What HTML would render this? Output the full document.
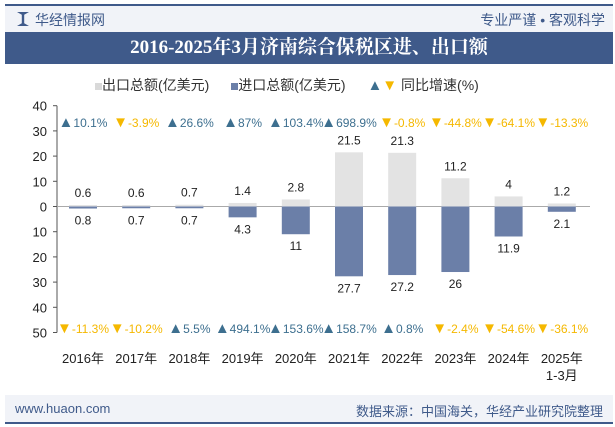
<!DOCTYPE html>
<html><head><meta charset="utf-8"><style>
body{margin:0;width:615px;height:427px;background:#fff;font-family:"Liberation Sans","Noto Sans CJK SC",sans-serif;position:relative;overflow:hidden}
.abs{position:absolute}
</style></head><body>
<div class="abs" style="left:5px;top:4px;width:608px;height:2px;background:#3f5a8a"></div>
<div class="abs" style="left:5px;top:6px;width:608px;height:26px;background:#f1f3f8"></div>
<div class="abs" style="left:17px;top:12px;width:12px;height:14px;background:#3f5a8a;clip-path:polygon(0 0,40% 20%,40% 80%,0 100%,100% 100%,60% 80%,60% 20%,100% 0)"></div>
<div class="abs" style="left:35px;top:10px;font-size:14px;color:#3f5a8a">华经情报网</div>
<div class="abs" style="right:10px;top:10px;font-size:14px;color:#3f5a8a">专业严谨 • 客观科学</div>
<div class="abs" style="left:5px;top:32px;width:608px;height:32px;background:#3f5a8a;color:#fff;font-family:'Liberation Serif','Noto Serif CJK SC',serif;font-weight:bold;font-size:19px;text-align:center;line-height:32px">2016-2025年3月济南综合保税区进、出口额</div>
<div class="abs" style="left:95px;top:75px;font-size:14px;color:#333;white-space:nowrap">
<span><span style="display:inline-block;width:7px;height:7px;background:#d9d9d9"></span>出口总额(亿美元)</span>
<span style="margin-left:18px"><span style="display:inline-block;width:7px;height:7px;background:#6b7fa8"></span>进口总额(亿美元)</span>
<span style="margin-left:18px"><span style="color:#3d6f8f;font-size:15px">▲</span><span style="color:#f5b800;font-size:15px">▼</span> 同比增速(%)</span>
</div>
<svg class="abs" style="left:0;top:0" width="615" height="427" id="chart"></svg>
<div class="abs" style="left:5px;top:395px;width:608px;height:28px;background:#f1f3f8"></div>
<div class="abs" style="left:5px;top:422px;width:608px;height:2px;background:#3f5a8a"></div>
<div class="abs" style="left:15px;top:401px;font-size:13px;color:#3f5a8a">www.huaon.com</div>
<div class="abs" style="right:12px;top:401px;font-size:13px;color:#3f5a8a">数据来源：中国海关，华经产业研究院整理</div>
<script>
const categories=["2016年","2017年","2018年","2019年","2020年","2021年","2022年","2023年","2024年","2025年"];
const exports=[0.6,0.6,0.7,1.4,2.8,21.5,21.3,11.2,4,1.2];
const imports=[0.8,0.7,0.7,4.3,11,27.7,27.2,26,11.9,2.1];
const exportGrowth=[10.1,-3.9,26.6,87,103.4,698.9,-0.8,-44.8,-64.1,-13.3];
const importGrowth=[-11.3,-10.2,5.5,494.1,153.6,158.7,0.8,-2.4,-54.6,-36.1];
const yTicks=[40,30,20,10,0,10,20,30,40,50];
const svg=document.getElementById('chart');
const NS='http://www.w3.org/2000/svg';
const y0=206.5,k=2.52;
const y=v=>y0-v*k;
const x=i=>83+i*53.2;
function mk(t,a,txt,parent){const e=document.createElementNS(NS,t);for(const n in a)e.setAttribute(n,a[n]);if(txt!==undefined)e.textContent=txt;(parent||svg).appendChild(e);return e;}
let ax=mk('line',{x1:57,y1:y(40),x2:57,y2:y(-50),stroke:'#555','stroke-width':1});

let zl=mk('line',{x1:57,y1:y0,x2:590,y2:y0,stroke:'#aaa','stroke-width':1});

yTicks.forEach((t,i)=>{const v=40-i*10;
let l=mk('line',{x1:53,y1:y(v),x2:57,y2:y(v),stroke:'#555'});

let tx=mk('text',{x:47,y:y(v)+5,'text-anchor':'end','font-size':13,fill:'#222'},t);
});
categories.forEach((c,i)=>{const cx=x(i),w=28;
let b=mk('rect',{x:cx-w/2,y:y(exports[i]),width:w,height:exports[i]*k,fill:'#e3e3e3'});

let b2=mk('rect',{x:cx-w/2,y:y0,width:w,height:imports[i]*k,fill:'#6b7fa8'});

let t1=mk('text',{x:cx,y:y(exports[i])-8,'text-anchor':'middle','font-size':12,fill:'#222'},exports[i]);

let t2=mk('text',{x:cx,y:y(-imports[i])+16,'text-anchor':'middle','font-size':12,fill:'#222'},imports[i]);

[[exportGrowth[i],127],[importGrowth[i],333]].forEach(([g,yy])=>{
const up=g>=0;let t=mk('text',{x:cx,y:yy,'text-anchor':'middle','font-size':12,fill:up?'#3d6f8f':'#f5b800'});

mk('tspan',{'font-size':15},up?'▲':'▼',t);
mk('tspan',{},g+'%',t);});
let cl=mk('text',{x:cx,y:363,'text-anchor':'middle','font-size':13,fill:'#222'},c);
});
let s=mk('text',{x:x(9),y:380,'text-anchor':'middle','font-size':13,fill:'#222'},'1-3月');

</script>
</body></html>
